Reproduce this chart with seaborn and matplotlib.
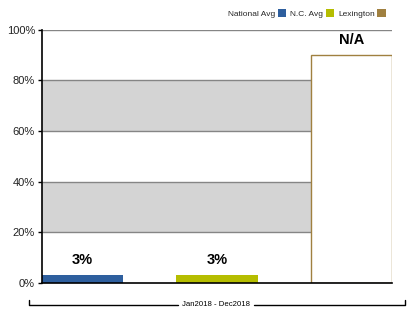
import matplotlib
matplotlib.use("Agg")
import matplotlib.pyplot as plt
from matplotlib.patches import Patch
from matplotlib.lines import Line2D
import seaborn as sns
import pandas as pd

# Series and values
series = ["National Avg", "N.C. Avg", "Lexington"]
values = [3, 3, 90]
value_labels = ["3%", "3%", "N/A"]
colors = ["#2e5f9e", "#b5bd00", "#a08040"]
period = "Jan2018 - Dec2018"
yticks = [0, 20, 40, 60, 80, 100]

sns.set_theme(style="white")
plt.rcParams["font.family"] = ["Liberation Sans", "DejaVu Sans"]

fig = plt.figure(figsize=(4.17, 3.31), dpi=100)
ax = fig.add_axes([42 / 417, 48 / 331, 350 / 417, 253.5 / 331])

df = pd.DataFrame({"series": series, "value": values})
bw = 0.604
sns.barplot(data=df, x="series", y="value", ax=ax, width=bw, zorder=2,
            order=series, color="white")
for i, p in enumerate(ax.containers[0]):
    if series[i] == "Lexington":
        p.set_facecolor("white")
        p.set_edgecolor(colors[i])
        p.set_linewidth(1.0)
    else:
        p.set_facecolor(colors[i])
        p.set_edgecolor("none")

# shaded bands and grid lines
for lo, hi in [(20, 40), (60, 80)]:
    ax.axhspan(lo, hi, color="#d4d4d4", zorder=0, lw=0)
for y in yticks[1:]:
    ax.axhline(y, color="#858585", lw=1.0, zorder=1)

# value labels above each bar
for i, (v, lab) in enumerate(zip(values, value_labels)):
    ax.annotate(lab, (i, v), xytext=(0, 6), textcoords="offset points",
                ha="center", va="bottom", fontsize=10.5,
                fontweight="bold", color="black")

ax.set_xlim(-bw / 2, 2 + bw / 2)
ax.set_ylim(0, 100)
ax.set_yticks(yticks)
ax.set_yticklabels([f"{t}%" for t in yticks], fontsize=8, color="#222222")
ax.set_xticks([])
ax.set_xlabel("")
ax.set_ylabel("")
ax.tick_params(axis="y", length=3, width=1, color="black", pad=2, left=True)
for s in ["top", "right"]:
    ax.spines[s].set_visible(False)
ax.spines["left"].set_color("black")
ax.spines["bottom"].set_color("black")
ax.spines["left"].set_linewidth(1.2)
ax.spines["bottom"].set_linewidth(1.2)

# period bracket under the axis
yb = 1 - 305 / 331
x0, x1 = 29 / 417, 405 / 417
xm = 216 / 417
half = 38 / 417
fig.add_artist(Line2D([x0, x0, xm - half], [yb + 0.015, yb, yb], color="black", lw=1))
fig.add_artist(Line2D([xm + half, x1, x1], [yb, yb, yb + 0.015], color="black", lw=1))
fig.text(xm, yb, period, ha="center", va="center", fontsize=5.6, color="black")

# legend, text before swatch
handles = [Patch(facecolor=c, edgecolor="none") for c in colors]
fig.legend(handles, series, loc="upper right", bbox_to_anchor=(389 / 417, 1 - 6 / 331),
           ncol=3, frameon=False, markerfirst=False, fontsize=6,
           handlelength=1.0, handleheight=1.0, handletextpad=0.3,
           columnspacing=0.5, borderaxespad=0)

fig.savefig("out.png", dpi=100)
